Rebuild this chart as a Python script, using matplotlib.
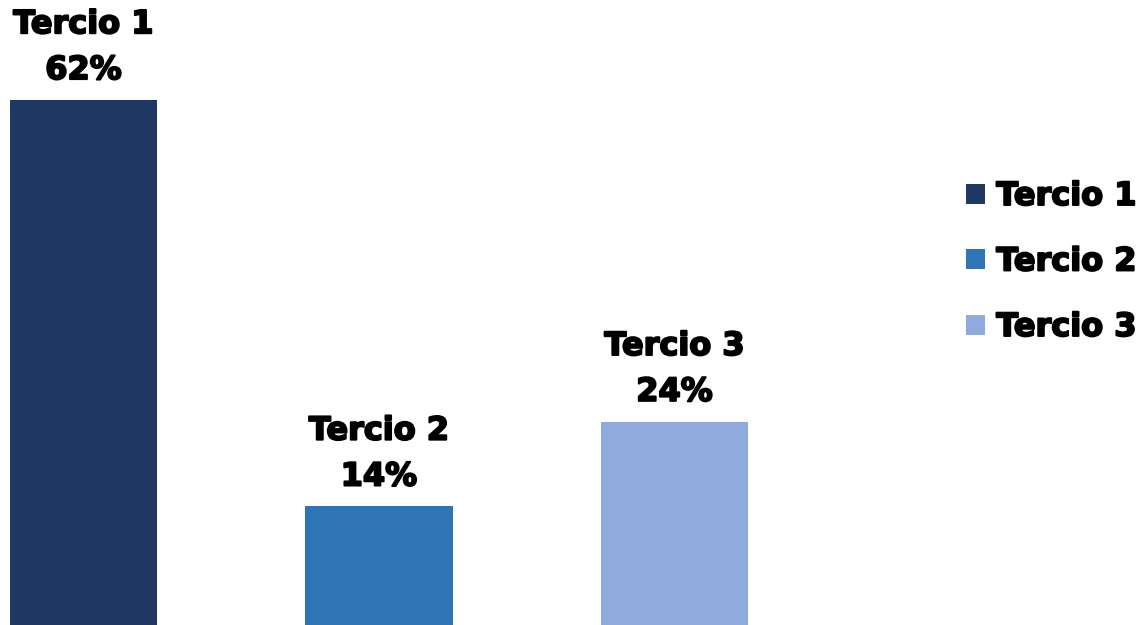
import numpy as np
import matplotlib
matplotlib.use("Agg")
import matplotlib.pyplot as plt
import matplotlib.patheffects as pe

categories = ["Tercio 1", "Tercio 2", "Tercio 3"]
values = [62, 14, 24]
colors = ["#1F3864", "#2E75B6", "#8FAADC"]

plt.rcParams['font.family'] = ['DejaVu Sans']

# a thin black stroke makes the bold face look closer to the heavy original
heavy = [pe.withStroke(linewidth=1.4, foreground='black')]

fig = plt.figure(figsize=(11.47, 6.25), dpi=100)
# axes spans full height; x scale chosen so bars land where the reference has them
ax = fig.add_axes([0, 0, 900 / 1147, 1])
x = np.arange(len(categories))
bars = ax.bar(x, values, width=0.5, color=colors, label=categories)

ax.set_xlim(-83.5 / 295.5, (900 - 83.5) / 295.5)
ax.set_ylim(0, 62 * 625 / 525)
ax.axis('off')

for xi, v, c in zip(x, values, categories):
    ax.annotate(f"{c}\n{v}%", (xi, v), xytext=(0, 10), textcoords='offset points',
                ha='center', va='bottom', fontsize=23, fontweight='bold',
                linespacing=1.62, path_effects=heavy)

leg = fig.legend(handles=bars, labels=categories, loc='upper left',
                 bbox_to_anchor=(950 / 1147, 1 - 165 / 625), frameon=False,
                 prop={'weight': 'bold', 'size': 23},
                 handlelength=0.6, handleheight=0.6, handletextpad=0.35,
                 labelspacing=1.08, borderpad=0)
for t in leg.get_texts():
    t.set_path_effects(heavy)

fig.savefig('out.png', dpi=100)
